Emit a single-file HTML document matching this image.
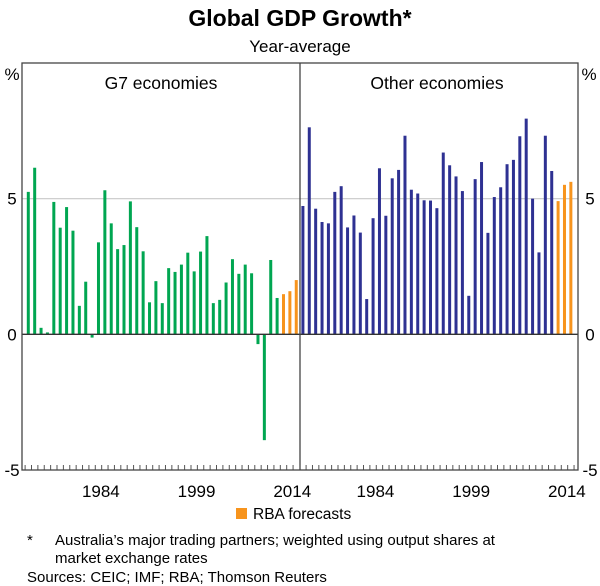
<!DOCTYPE html>
<html><head><meta charset="utf-8"><style>
body{margin:0;background:#fff;}
svg{display:block;font-family:"Liberation Sans",Arial,sans-serif;}
</style></head><body>
<svg id="c" width="600" height="586" viewBox="0 0 600 586">
<text x="300" y="26" text-anchor="middle" font-size="23" font-weight="bold">Global GDP Growth*</text>
<text x="300" y="52" text-anchor="middle" font-size="17">Year-average</text>
<text x="12" y="80" text-anchor="middle" font-size="17">%</text>
<text x="589" y="80" text-anchor="middle" font-size="17">%</text>
<text x="161" y="89" text-anchor="middle" font-size="17.5">G7 economies</text>
<text x="437" y="89" text-anchor="middle" font-size="17.5">Other economies</text>
<g id="grid"></g>
<g id="bars"></g>
<g id="axes"></g>
<rect x="236" y="508" width="11" height="11" fill="#f7941d"/>
<text x="253" y="519" font-size="15.5">RBA forecasts</text>
<text x="27" y="545" font-size="15">*</text>
<text x="55" y="545" font-size="15">Australia’s major trading partners; weighted using output shares at</text>
<text x="55" y="563" font-size="15">market exchange rates</text>
<text x="27" y="582" font-size="15">Sources: CEIC; IMF; RBA; Thomson Reuters</text>
</svg>
<script>
const years = [];
for (let y = 1972; y <= 2014; y++) years.push(y);
const forecastCount = 3;
const g7Growth = [5.25,6.14,0.24,0.07,4.88,3.93,4.69,3.82,1.05,1.94,-0.12,3.39,5.31,4.09,3.14,3.29,4.90,3.95,3.06,1.18,1.96,1.15,2.44,2.30,2.57,3.01,2.32,3.05,3.62,1.15,1.27,1.91,2.77,2.23,2.57,2.25,-0.36,-3.9,2.74,1.34,1.48,1.59,2.0];
const otherGrowth = [4.73,7.63,4.63,4.14,4.09,5.25,5.46,3.94,4.38,3.75,1.30,4.28,6.12,4.37,5.75,6.06,7.32,5.33,5.19,4.94,4.93,4.65,6.70,6.23,5.82,5.28,1.42,5.72,6.35,3.74,5.06,5.42,6.27,6.43,7.30,7.95,5.0,3.02,7.32,6.02,4.91,5.51,5.62];
const yTicks = [-5,0,5];
const xTickLabels = [1984,1999,2014];

const NS = "http://www.w3.org/2000/svg";
const plotTop = 63, plotBot = 470, yMin = -5, yMax = 10;
const pitch = 6.38;
const panels = [{left:22,right:300,first:28.3,data:g7Growth,color:"#00a651",name:"g7"},
                {left:300,right:578,first:302.9,data:otherGrowth,color:"#2e3192",name:"other"}];
function yS(v){ return plotTop + (yMax - v) / (yMax - yMin) * (plotBot - plotTop); }
function xS(p, i){ return p.first + i * pitch; }
function mk(tag, attrs, parent){
  const e = document.createElementNS(NS, tag);
  for (const k in attrs) e.setAttribute(k, attrs[k]);
  parent.appendChild(e); return e;
}
const gridG = document.getElementById('grid'), barsG = document.getElementById('bars'), axesG = document.getElementById('axes');

yTicks.forEach(t => {
  if (t === 5) {
    const l = mk('line', {x1:22,x2:578,y1:yS(t),y2:yS(t),stroke:'#c8c8c8','stroke-width':1.2}, gridG);
    
    
  }
  const a = mk('text', {x:12,y:yS(t)+6,'text-anchor':'middle','font-size':17}, axesG);
  a.textContent = t;
  
  
  const b = mk('text', {x:590,y:yS(t)+6,'text-anchor':'middle','font-size':17}, axesG);
  b.textContent = t;
  
  
});

panels.forEach(p => {
  p.data.forEach((v, i) => {
    const fc = i >= years.length - forecastCount;
    const y0 = yS(0), y1 = yS(v);
    const r = mk('rect', {x:xS(p,i)-1.5, y:Math.min(y0,y1), width:3, height:Math.abs(y1-y0), fill: fc ? '#f7941d' : p.color}, barsG);
    
    
  });
  for (let i = 0; i <= years.length; i++) {
    const xx = xS(p, i) - pitch / 2;
    if (xx <= p.left + 1 || xx >= p.right - 1) continue;
    const tk = mk('line', {x1:xx,x2:xx,y1:plotBot,y2:plotBot-5,stroke:'#555','stroke-width':1}, axesG);
    
    
  }
  xTickLabels.forEach(yr => {
    const i = years.indexOf(yr);
    const t = mk('text', {x:xS(p,i)-4,y:497,'text-anchor':'middle','font-size':17}, axesG);
    t.textContent = yr;
    
    
  });
});

const z = mk('line', {x1:22,x2:578,y1:yS(0),y2:yS(0),stroke:'#333','stroke-width':1.3}, axesG);


const fr = mk('rect', {x:22,y:plotTop,width:556,height:plotBot-plotTop,fill:'none',stroke:'#444','stroke-width':1.3}, axesG);


const dv = mk('line', {x1:300,x2:300,y1:plotTop,y2:plotBot,stroke:'#444','stroke-width':1.3}, axesG);


</script>
</body></html>
